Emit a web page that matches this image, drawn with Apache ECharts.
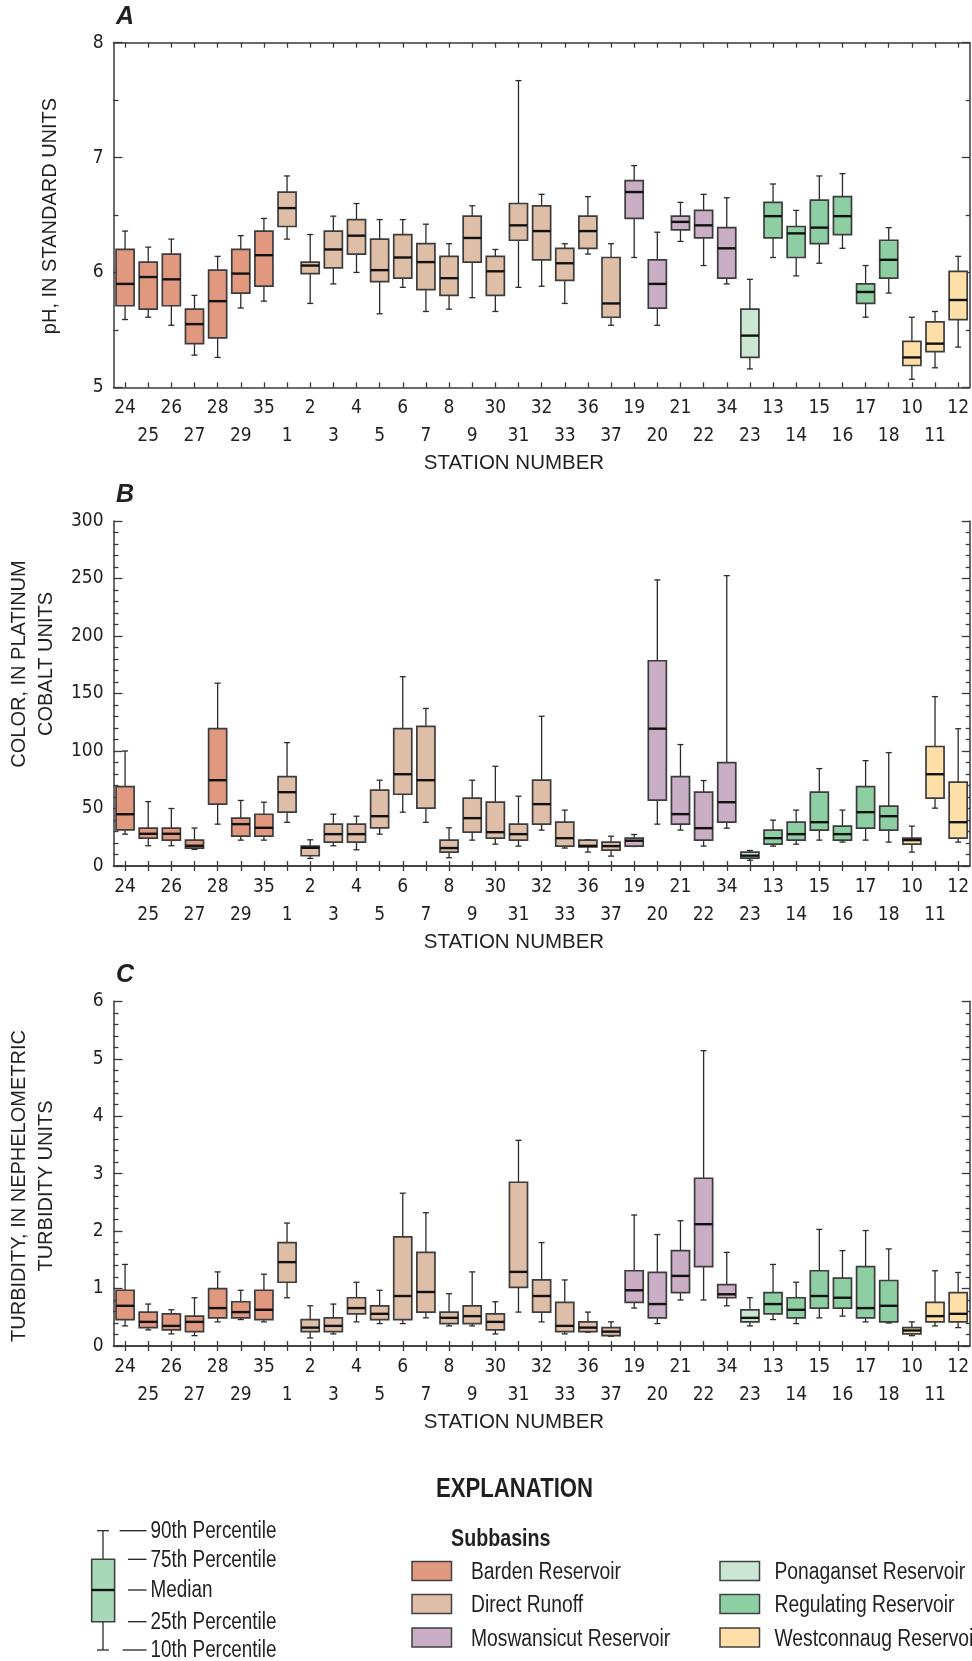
<!DOCTYPE html>
<html>
<head>
<meta charset="utf-8">
<script src="https://cdn.jsdelivr.net/npm/echarts@6/dist/echarts.min.js"></script>
<style>
  html, body { margin: 0; padding: 0; background: #ffffff; }
  #chart { width: 972px; height: 1661px; }
</style>
</head>
<body>
<div id="chart"></div>
<script>
// Station order along the x axis, grouped by subbasin
const stations = ['24','25','26','27','28','29','35','1','2','3','4','5','6','7','8','9',
  '30','31','32','33','36','37','19','20','21','22','34','23','13','14','15','16','17','18','10','11','12'];

const subbasins = ['Barden Reservoir','Direct Runoff','Moswansicut Reservoir',
  'Ponaganset Reservoir','Regulating Reservoir','Westconnaug Reservoir'];
const subbasinColors = ['#E0987F','#DFBEA8','#C9AEC5','#CBE6D3','#8DCEA3','#FDDFA7'];

// Subbasin index of each station (same order as stations)
const stationSubbasin = [0,0,0,0,0,0,0,
  1,1,1,1,1,1,1,1,1,1,1,1,1,1,1,
  2,2,2,2,2,
  3,
  4,4,4,4,4,4,
  5,5,5];

// Percentiles per station: [10th, 25th, median, 75th, 90th]
const phStats = [
  [5.59,5.71,5.90,6.20,6.36],[5.61,5.68,5.96,6.09,6.22],[5.54,5.71,5.94,6.16,6.29],
  [5.28,5.38,5.55,5.68,5.80],[5.26,5.43,5.75,6.02,6.14],[5.69,5.82,5.99,6.20,6.32],
  [5.75,5.88,6.15,6.36,6.47],[6.29,6.40,6.56,6.70,6.84],[5.73,5.99,6.06,6.09,6.33],
  [5.90,6.04,6.20,6.36,6.49],[6.00,6.16,6.32,6.46,6.60],[5.64,5.92,6.02,6.29,6.46],
  [5.87,5.95,6.13,6.33,6.46],[5.66,5.85,6.09,6.25,6.42],[5.68,5.80,5.95,6.14,6.25],
  [5.78,6.09,6.30,6.49,6.58],[5.66,5.80,6.01,6.14,6.20],[5.87,6.28,6.41,6.60,7.67],
  [5.88,6.11,6.36,6.58,6.68],[5.73,5.93,6.08,6.21,6.25],[6.16,6.21,6.36,6.49,6.66],
  [5.54,5.61,5.73,6.13,6.25],[6.13,6.47,6.70,6.80,6.93],[5.54,5.69,5.90,6.11,6.35],
  [6.27,6.37,6.44,6.49,6.61],[6.06,6.30,6.41,6.54,6.68],[5.90,5.95,6.21,6.39,6.65],
  [5.16,5.26,5.45,5.68,5.94],[6.13,6.30,6.49,6.61,6.77],[5.97,6.13,6.34,6.40,6.54],
  [6.08,6.25,6.39,6.63,6.84],[6.21,6.33,6.49,6.66,6.86],[5.61,5.73,5.83,5.90,6.06],
  [5.82,5.95,6.11,6.28,6.39],[5.07,5.19,5.26,5.40,5.61],[5.17,5.31,5.38,5.57,5.66],
  [5.35,5.59,5.76,6.01,6.14]
];

const colorStats = [
  [27.7,31.5,45,69,100],[17.6,24.2,28,33,56],[17.6,22.5,28,33,50],
  [14.4,15.6,17.6,22.5,33],[36.4,53.8,74.6,119.4,159],[22.5,26,36.4,41.6,57],
  [22.5,26,33.2,45,55.5],[38,46.8,64.2,77.8,107.3],[6.6,8.9,15.8,17.3,22.8],
  [17.6,20.8,27.7,36.4,45],[14.1,20.8,27.7,36.4,43.3],[27.7,33.2,43.3,65.9,74.6],
  [46.8,62.4,79.8,119.4,164.6],[38,50.3,74.6,121.5,137],[7.2,12.1,15.6,22.5,33.2],
  [22.5,29.5,41.6,59,74.6],[19,24.2,29.4,55.5,86.7],[17.3,22.5,27.7,36.4,60.7],
  [31.2,36.4,53.8,74.6,130.2],[15.6,17.3,24.2,38.1,48.6],[12.1,16.7,17.5,22.5,22.8],
  [8.6,13.8,17.3,20.8,25.9],[17,17.3,22,24.2,27.4],[36.4,57.2,119.4,178.5,248.8],
  [31.2,36.4,45.1,77.8,105.6],[17.3,22.5,32.9,64.2,74.3],[32.9,38.1,55.5,89.9,252.5],
  [5,6.9,9,12.1,13.5],[17.3,19,24.2,31.2,39.9],[19,22.5,27.7,38.1,48.6],
  [22.5,31.2,38.1,64.2,84.7],[20.8,22.5,27.7,34.7,48.6],[22.5,32.9,46.8,69.1,91.6],
  [20.8,31.2,43.3,52,98.6],[12.1,19,22.5,24.2,34.7],[50.3,59,79.8,103.9,147.3],
  [20.8,24.2,38.1,72.9,119.4]
];

const turbidityStats = [
  [0.35,0.46,0.70,0.97,1.42],[0.28,0.32,0.42,0.59,0.73],[0.21,0.28,0.35,0.56,0.63],
  [0.18,0.25,0.42,0.52,0.84],[0.42,0.49,0.66,1.00,1.29],[0.46,0.49,0.59,0.77,0.97],
  [0.42,0.46,0.63,0.97,1.25],[0.84,1.11,1.46,1.80,2.14],[0.14,0.25,0.32,0.46,0.70],
  [0.21,0.25,0.35,0.49,0.73],[0.42,0.56,0.66,0.84,1.11],[0.39,0.46,0.56,0.70,0.97],
  [0.39,0.46,0.87,1.90,2.66],[0.49,0.59,0.94,1.63,2.32],[0.35,0.39,0.49,0.59,0.91],
  [0.35,0.39,0.52,0.70,1.29],[0.21,0.28,0.42,0.56,0.77],[0.59,1.02,1.29,2.85,3.58],
  [0.42,0.59,0.87,1.15,1.80],[0.21,0.25,0.35,0.76,1.15],[0.24,0.25,0.32,0.42,0.59],
  [0.17,0.18,0.25,0.32,0.42],[0.66,0.76,0.97,1.31,2.28],[0.39,0.49,0.73,1.28,1.94],
  [0.80,0.93,1.22,1.66,2.18],[0.80,1.38,2.12,2.92,5.14],[0.70,0.84,0.90,1.07,1.63],
  [0.35,0.42,0.49,0.63,0.84],[0.46,0.56,0.73,0.93,1.42],[0.39,0.49,0.63,0.84,1.11],
  [0.49,0.66,0.87,1.31,2.03],[0.52,0.66,0.84,1.18,1.66],[0.42,0.49,0.66,1.38,2.01],
  [0.40,0.42,0.70,1.14,1.69],[0.18,0.21,0.27,0.32,0.42],[0.35,0.42,0.52,0.76,1.31],
  [0.32,0.42,0.56,0.93,1.28]
];

// Y-axis tick labels for each panel
const phTicks = [5, 6, 7, 8];
const colorTicks = [0, 50, 100, 150, 200, 250, 300];
const turbidityTicks = [0, 1, 2, 3, 4, 5, 6];

const percentileLabels = ['90th Percentile','75th Percentile','Median','25th Percentile','10th Percentile'];

const CONDENSED = "'DejaVu Sans Condensed', 'Liberation Sans Narrow', sans-serif";
const REGULAR = "'Liberation Sans', Arial, Helvetica, sans-serif";
const NARROW_SCALE = 0.82;   // horizontal squeeze for the condensed key text
const INK = '#231f20';
const AXIS = '#3a3a3a';

const panels = [
  { letter: 'A', stats: phStats, ticks: phTicks, minor: 2, top: 42.7, bottom: 387.3,
    title: 'pH, IN STANDARD UNITS', titleX: 50, titleY: 216 },
  { letter: 'B', stats: colorStats, ticks: colorTicks, minor: 5, top: 521, bottom: 866,
    title: 'COLOR, IN PLATINUM\nCOBALT UNITS', titleX: 33, titleY: 664 },
  { letter: 'C', stats: turbidityStats, ticks: turbidityTicks, minor: 5, top: 1001.3, bottom: 1346,
    title: 'TURBIDITY, IN NEPHELOMETRIC\nTURBIDITY UNITS', titleX: 33, titleY: 1186 }
];

const GRID_LEFT = 113.5;
const GRID_WIDTH = 859.5;

function renderBox(params, api) {
  const k = api.value(0);
  const lo = api.coord([k, api.value(1)]);
  const q1 = api.coord([k, api.value(2)]);
  const md = api.coord([k, api.value(3)]);
  const q3 = api.coord([k, api.value(4)]);
  const hi = api.coord([k, api.value(5)]);
  const band = api.size([1, 0])[0];
  const bw = band * 0.78;
  const cap = 3;
  const cx = lo[0];
  const fill = subbasinColors[api.value(6)];
  const whisker = { stroke: '#2b2b2b', lineWidth: 1.3 };
  return {
    type: 'group',
    children: [
      { type: 'line', shape: { x1: cx, y1: hi[1], x2: cx, y2: lo[1] }, style: whisker },
      { type: 'line', shape: { x1: cx - cap, y1: hi[1], x2: cx + cap, y2: hi[1] }, style: whisker },
      { type: 'line', shape: { x1: cx - cap, y1: lo[1], x2: cx + cap, y2: lo[1] }, style: whisker },
      { type: 'rect', shape: { x: cx - bw / 2, y: q3[1], width: bw, height: q1[1] - q3[1] },
        style: { fill: fill, stroke: '#3c3c3c', lineWidth: 1.7 } },
      { type: 'line', shape: { x1: cx - bw / 2, y1: md[1], x2: cx + bw / 2, y2: md[1] },
        style: { stroke: '#111111', lineWidth: 2.4 } }
    ]
  };
}

// Condensed text for the key: regular face squeezed horizontally
function keyText(text, x, y, size, opts) {
  opts = opts || {};
  return {
    type: 'text', x: x, y: y, scaleX: NARROW_SCALE,
    style: { text: text, fontSize: size, fontFamily: REGULAR, fontWeight: opts.bold ? 'bold' : 'normal',
      fill: INK, align: opts.align || 'left', verticalAlign: 'middle' }
  };
}

const grids = [], xAxes = [], yAxes = [], series = [], graphics = [];

panels.forEach((p, i) => {
  grids.push({ left: GRID_LEFT, width: GRID_WIDTH, top: p.top, height: p.bottom - p.top });
  const lineStyle = { color: AXIS, width: 1.5 };
  const tickLine = { color: AXIS, width: 1.3 };
  xAxes.push({
    type: 'category', gridIndex: i, data: stations, position: 'bottom', boundaryGap: true,
    axisLine: { show: true, lineStyle },
    axisTick: { show: true, inside: true, alignWithLabel: true, interval: 0, length: 5, lineStyle: tickLine },
    axisLabel: { interval: 0, margin: 7, fontSize: 19, lineHeight: 28, fontFamily: CONDENSED, color: INK,
      formatter: (v, idx) => (idx % 2 ? '\n' + v : v) },
    splitLine: { show: false }
  });
  xAxes.push({
    type: 'category', gridIndex: i, data: stations, position: 'top', boundaryGap: true,
    axisLine: { show: true, lineStyle },
    axisTick: { show: true, inside: true, alignWithLabel: true, interval: 0, length: 5, lineStyle: tickLine },
    axisLabel: { show: false }, splitLine: { show: false }
  });
  const min = p.ticks[0], max = p.ticks[p.ticks.length - 1];
  const interval = p.ticks[1] - p.ticks[0];
  yAxes.push({
    type: 'value', gridIndex: i, position: 'left', min, max, interval,
    axisLine: { show: true, lineStyle },
    axisTick: { show: true, inside: true, length: 9, lineStyle: tickLine },
    minorTick: { show: true, splitNumber: p.minor, length: 5, lineStyle: tickLine },
    axisLabel: { margin: 10, fontSize: 19, fontFamily: CONDENSED, color: INK },
    splitLine: { show: false }, minorSplitLine: { show: false }
  });
  yAxes.push({
    type: 'value', gridIndex: i, position: 'right', min, max, interval,
    axisLine: { show: true, lineStyle },
    axisTick: { show: true, inside: true, length: 8, lineStyle: tickLine },
    minorTick: { show: true, splitNumber: p.minor, length: 4, lineStyle: tickLine },
    axisLabel: { show: false },
    splitLine: { show: false }, minorSplitLine: { show: false }
  });
  series.push({
    type: 'custom', xAxisIndex: 2 * i, yAxisIndex: 2 * i,
    renderItem: renderBox,
    encode: { x: 0, y: [1, 2, 3, 4, 5] },
    data: stations.map((s, k) => [k].concat(p.stats[k], [stationSubbasin[k]])),
    z: 3
  });

  // Panel letter
  graphics.push({ type: 'text', x: 116, y: p.top - 26,
    style: { text: p.letter, fontSize: 25, fontWeight: 'bold', fontStyle: 'italic', fontFamily: REGULAR,
      fill: INK, align: 'left', verticalAlign: 'middle' } });
  // Y-axis title
  graphics.push({ type: 'text', x: p.titleX, y: p.titleY, rotation: Math.PI / 2,
    style: { text: p.title, fontSize: 20, lineHeight: 26.7, fontFamily: REGULAR, fill: INK,
      align: 'center', verticalAlign: 'middle' } });
  // X-axis title
  graphics.push({ type: 'text', x: 514, y: p.bottom + 76,
    style: { text: 'STATION NUMBER', fontSize: 20.5, fontFamily: REGULAR, fill: INK,
      align: 'center', verticalAlign: 'middle' } });
});

// Explanation block
graphics.push(keyText('EXPLANATION', 514.5, 1490, 27, { bold: true, align: 'center' }));
graphics.push(keyText('Subbasins', 451, 1539, 24, { bold: true }));

const legendCols = [{ swatchX: 412, textX: 471 }, { swatchX: 720, textX: 774.5 }];
const legendRows = [1571, 1604, 1637.5];
subbasins.forEach((name, j) => {
  const col = legendCols[Math.floor(j / 3)];
  const cy = legendRows[j % 3];
  graphics.push({ type: 'rect', shape: { x: col.swatchX, y: cy - 9.5, width: 39.5, height: 19 },
    style: { fill: subbasinColors[j], stroke: '#404040', lineWidth: 1.5 } });
  graphics.push(keyText(name, col.textX, cy + 2, 23.5));
});

// Box-plot key
const keyX = 103, keyY = [1530.7, 1559.3, 1590, 1621.7, 1650];
const keyStroke = { stroke: '#2b2b2b', lineWidth: 1.3 };
graphics.push({ type: 'line', shape: { x1: keyX, y1: keyY[0], x2: keyX, y2: keyY[4] }, style: keyStroke });
graphics.push({ type: 'line', shape: { x1: keyX - 6, y1: keyY[0], x2: keyX + 6, y2: keyY[0] }, style: keyStroke });
graphics.push({ type: 'line', shape: { x1: keyX - 6, y1: keyY[4], x2: keyX + 6, y2: keyY[4] }, style: keyStroke });
graphics.push({ type: 'rect', shape: { x: 91.7, y: keyY[1], width: 22.9, height: keyY[3] - keyY[1] },
  style: { fill: '#A7D8B7', stroke: '#404040', lineWidth: 1.6 } });
graphics.push({ type: 'line', shape: { x1: 91.7, y1: keyY[2], x2: 114.6, y2: keyY[2] },
  style: { stroke: '#111111', lineWidth: 2.4 } });
const dashStart = [119.6, 128, 128, 128, 122.7];
percentileLabels.forEach((lab, j) => {
  graphics.push({ type: 'line', shape: { x1: dashStart[j], y1: keyY[j], x2: 146.5, y2: keyY[j] },
    style: { stroke: INK, lineWidth: 1.3 } });
  graphics.push(keyText(lab, 150.6, keyY[j] + 1, 23));
});

const chart = echarts.init(document.getElementById('chart'), null, { renderer: 'canvas' });
chart.setOption({
  animation: false,
  backgroundColor: '#ffffff',
  grid: grids,
  xAxis: xAxes,
  yAxis: yAxes,
  series: series,
  graphic: { elements: graphics }
});
</script>
</body>
</html>
